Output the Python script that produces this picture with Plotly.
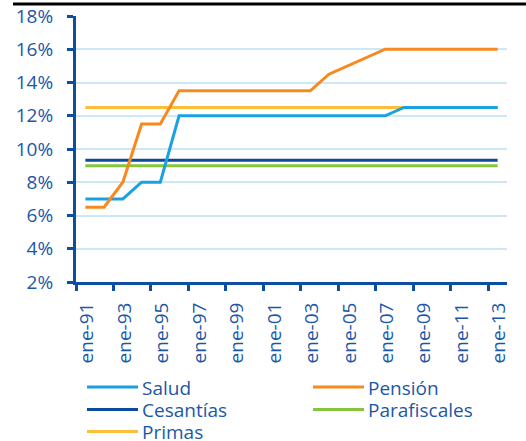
import plotly.graph_objects as go

years = list(range(1991, 2014))
salud = [7, 7, 7, 8, 8] + [12] * 12 + [12.5] * 6
pension = [6.5, 6.5, 8, 11.5, 11.5] + [13.5] * 8 + [14.5, 15, 15.5] + [16] * 7
cesantias = [9.33] * 23
parafiscales = [9] * 23
primas = [12.5] * 23

names = ["Salud", "Pensión", "Cesantías", "Parafiscales", "Primas"]
series = [salud, pension, cesantias, parafiscales, primas]
colors = ["#1ba1e2", "#f7891f", "#0c4a9c", "#86c440", "#fbbd3a"]

tick_text = ["ene-%02d" % (y % 100) for y in range(1991, 2014, 2)]
tick_vals = [y - 0.5 for y in range(1991, 2014, 2)]

W, H = 526, 441
L, R, T, B = 76, 19, 16, 159
pw, ph = W - L - R, H - T - B
TXT = "#1b57a8"
AX = "#0b4ea2"
FONT = "Open Sans"

fig = go.Figure()
draw_order = [3, 2, 4, 0, 1]
for i in draw_order:
    fig.add_trace(go.Scatter(x=years, y=series[i], mode="lines", name=names[i],
                             line=dict(color=colors[i], width=3), showlegend=False))

def px(x):
    return (x - L) / pw

def py(y):
    return (H - B - y) / ph

shapes = [dict(type="line", xref="paper", yref="paper", x0=px(13), x1=px(526),
               y0=py(4), y1=py(4), line=dict(color="black", width=3))]
annotations = []
legend_pos = [(87, 387), (313, 387), (87, 409.5), (313, 409.5), (87, 431.5)]
for i, (lx, ly) in enumerate(legend_pos):
    shapes.append(dict(type="line", xref="paper", yref="paper", x0=px(lx), x1=px(lx + 51),
                       y0=py(ly), y1=py(ly), line=dict(color=colors[i], width=3)))
    annotations.append(dict(xref="paper", yref="paper", x=px(lx + 54), y=py(ly),
                            xanchor="left", yanchor="middle", showarrow=False, height=19,
                            borderpad=0,
                            text=names[i], font=dict(family=FONT, size=19, color=TXT)))

fig.update_layout(
    width=W, height=H,
    margin=dict(l=L, r=R, t=T, b=B, autoexpand=False),
    paper_bgcolor="white", plot_bgcolor="white",
    shapes=shapes, annotations=annotations,
    font=dict(family=FONT, size=18, color=TXT),
    xaxis=dict(range=[1990.5, 2013.5], tickmode="array", tickvals=tick_vals, ticktext=tick_text,
               tickangle=-90, ticks="outside", ticklen=6, tickwidth=2.5, tickcolor=AX,
               showline=True, linecolor=AX, linewidth=3, showgrid=False, zeroline=False,
               ticklabelshift=11, ticklabelstandoff=4, automargin=False,
               tickfont=dict(family=FONT, size=19, color=TXT)),
    yaxis=dict(range=[2, 18], tickmode="linear", tick0=2, dtick=2, ticksuffix="%",
               ticks="outside", ticklen=6, tickwidth=2.5, tickcolor=AX,
               showline=True, linecolor=AX, linewidth=3, showgrid=True,
               gridcolor="#cce8f6", gridwidth=1.5, zeroline=False,
               ticklabelstandoff=10, automargin=False,
               tickfont=dict(family=FONT, size=19, color=TXT)),
)

fig.write_html("out.html", config={"displayModeBar": False},
               post_script="document.body.style.margin='0';document.body.style.overflow='hidden';")
